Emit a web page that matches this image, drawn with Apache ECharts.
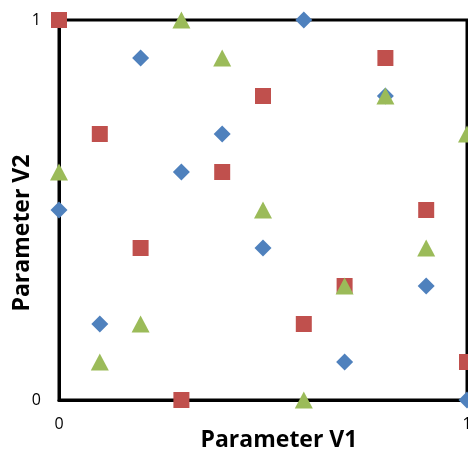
<!DOCTYPE html>
<html><head><meta charset="utf-8">
<script src="https://cdn.jsdelivr.net/npm/echarts@6/dist/echarts.min.js"></script>
<style>html,body{margin:0;padding:0;background:#fff}#c{width:468px;height:452px}</style>
</head><body><div id="c"></div>
<script>
const xValues = [0, 0.1, 0.2, 0.3, 0.4, 0.5, 0.6, 0.7, 0.8, 0.9, 1.0];
const blueY  = [0.5, 0.2, 0.9, 0.6, 0.7, 0.4, 1.0, 0.1, 0.8, 0.3, 0.0];
const redY   = [1.0, 0.7, 0.4, 0.0, 0.6, 0.8, 0.2, 0.3, 0.9, 0.5, 0.1];
const greenY = [0.6, 0.1, 0.2, 1.0, 0.9, 0.5, 0.0, 0.3, 0.8, 0.4, 0.7];
const xTickLabels = ['0', '1'];
const yTickLabels = ['0', '1'];
const xTitle = 'Parameter V1';
const yTitle = 'Parameter V2';

const pair = ys => xValues.map((x, i) => [x, ys[i]]);
const font = "'Open Sans', 'Liberation Sans', sans-serif";
const chart = echarts.init(document.getElementById('c'), null, {renderer: 'canvas'});
chart.setOption({
  animation: false,
  backgroundColor: '#fff',
  grid: {left: 59, right: 1, top: 20, bottom: 52, show: true, borderColor: '#000', borderWidth: 3,
    containLabel: false, outerBoundsMode: 'none'},
  xAxis: {
    type: 'value', min: 0, max: 1, interval: 1,
    name: xTitle, nameLocation: 'middle', nameGap: 29, nameMoveOverlap: false,
    nameTextStyle: {fontFamily: font, fontWeight: 'bold', fontSize: 23, color: '#000', padding: [0, 0, 0, 32]},
    axisLine: {show: true, lineStyle: {color: '#000', width: 3}},
    axisTick: {show: false}, splitLine: {show: false},
    axisLabel: {fontFamily: font, fontSize: 16, color: '#000', margin: 16,
      formatter: v => xTickLabels[Math.round(v)]}
  },
  yAxis: {
    type: 'value', min: 0, max: 1, interval: 1,
    name: yTitle, nameLocation: 'middle', nameGap: 25, nameMoveOverlap: false,
    nameTextStyle: {fontFamily: font, fontWeight: 'bold', fontSize: 23, color: '#000', padding: [0, 46, 0, 0]},
    axisLine: {show: true, lineStyle: {color: '#000', width: 3}},
    axisTick: {show: false}, splitLine: {show: false},
    axisLabel: {fontFamily: font, fontSize: 16, color: '#000', margin: 18,
      formatter: v => yTickLabels[Math.round(v)]}
  },
  series: [
    {type: 'scatter', data: pair(blueY), symbol: 'diamond', symbolSize: 17, itemStyle: {color: '#4F81BD', opacity: 1}, clip: false, z: 2},
    {type: 'scatter', data: pair(redY), symbol: 'rect', symbolSize: 16, itemStyle: {color: '#C0504D', opacity: 1}, clip: false, z: 3},
    {type: 'scatter', data: pair(greenY), symbol: 'triangle', symbolSize: [18, 17], itemStyle: {color: '#9BBB59', opacity: 1}, clip: false, z: 4}
  ]
});
</script></body></html>
